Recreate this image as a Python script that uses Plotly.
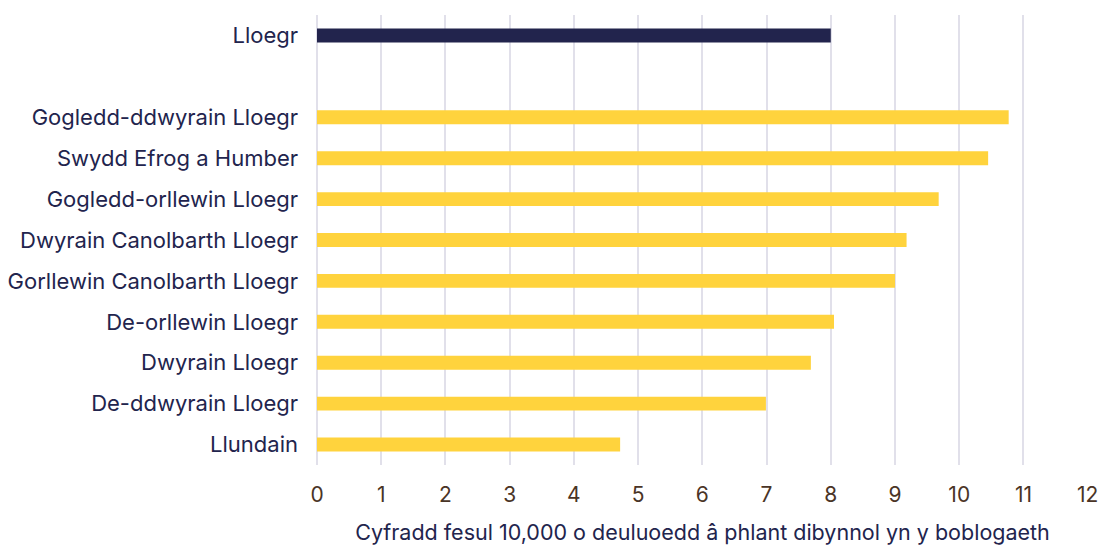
import plotly.graph_objects as go

categories = [
    "Lloegr",
    " ",
    "Gogledd-ddwyrain Lloegr",
    "Swydd Efrog a Humber",
    "Gogledd-orllewin Lloegr",
    "Dwyrain Canolbarth Lloegr",
    "Gorllewin Canolbarth Lloegr",
    "De-orllewin Lloegr",
    "Dwyrain Lloegr",
    "De-ddwyrain Lloegr",
    "Llundain",
]
values = [8.0, None, 10.77, 10.45, 9.68, 9.18, 9.0, 8.05, 7.69, 6.99, 4.72]
bar_colors = ["#22244d", "#ffffff"] + ["#ffd33d"] * 9
tick_vals = list(range(0, 13))
x_title = "Cyfradd fesul 10,000 o deuluoedd â phlant dibynnol yn y boblogaeth"

FONT = "Inter"

fig = go.Figure(
    go.Bar(
        x=values,
        y=categories,
        orientation="h",
        marker=dict(color=bar_colors, line=dict(width=0)),
        width=0.34,
        hoverinfo="x+y",
    )
)

fig.update_layout(
    width=1099,
    height=545,
    margin=dict(l=317, r=11, t=15, b=80),
    plot_bgcolor="white",
    paper_bgcolor="white",
    showlegend=False,
    font=dict(family=FONT, size=22, color="#22244d"),
)

fig.update_xaxes(
    range=[0, 12.005],
    tickvals=tick_vals,
    automargin=False,
    showgrid=True,
    gridcolor="#e1e0ea",
    gridwidth=2,
    zeroline=True,
    zerolinecolor="#e1e0ea",
    zerolinewidth=2,
    showline=False,
    ticks="",
    ticklabelstandoff=15,
    tickfont=dict(family=FONT, size=21, color="#4a3426"),
    title=dict(text=x_title, font=dict(family=FONT, size=21.5, color="#22244d"), standoff=21),
)

fig.update_yaxes(
    categoryorder="array",
    categoryarray=categories,
    autorange="reversed",
    automargin=False,
    showgrid=False,
    zeroline=False,
    showline=False,
    ticks="",
    ticklabelstandoff=18,
    tickfont=dict(family=FONT, size=22, color="#22244d"),
)

fig.write_html(
    "out.html",
    config={"displayModeBar": False},
    post_script=(
        "document.body.style.margin='0';"
        "document.body.style.overflow='hidden';"
        "document.documentElement.style.overflow='hidden';"
    ),
)
